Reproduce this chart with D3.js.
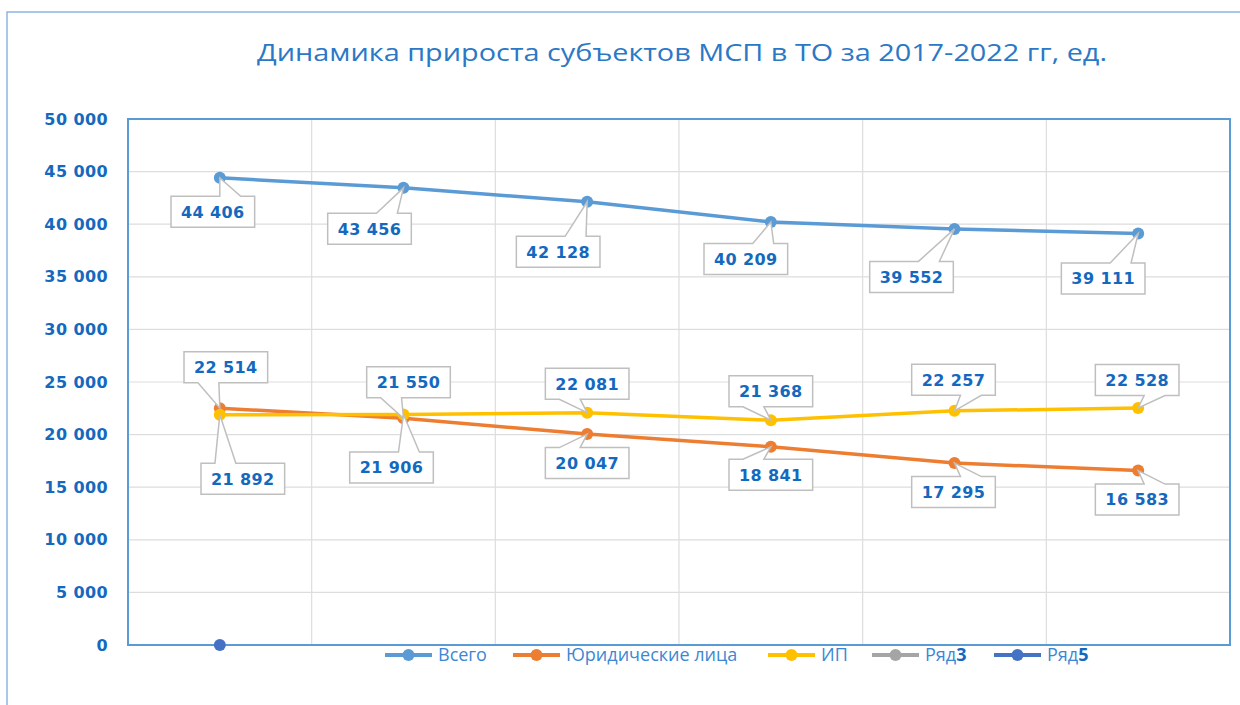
<!DOCTYPE html>
<html>
<head>
<meta charset="utf-8">
<script src="https://cdn.jsdelivr.net/npm/d3@7"></script>
<style>
  body { margin: 0; background: #fff; }
  svg { display: block; }
</style>
</head>
<body>
<div id="chart"></div>
<script>
// data
const years = ["2017", "2018", "2019", "2020", "2021", "2022"];
const totalVals = [44406, 43456, 42128, 40209, 39552, 39111];
const legalVals = [22514, 21550, 20047, 18841, 17295, 16583];
const ipVals = [21892, 21906, 22081, 21368, 22257, 22528];
const row3Vals = [null, null, null, null, null, null];
const row5Vals = [0, null, null, null, null, null];
const seriesNames = ["Всего", "Юридические лица", "ИП", "Ряд3", "Ряд5"];
const yTicks = [0, 5000, 10000, 15000, 20000, 25000, 30000, 35000, 40000, 45000, 50000];

// label box offsets from each point (layout, as placed in the original)
const totalLabelOff = [[-7, 34], [-34, 41], [-29, 50], [-25, 37], [-43, 48], [-35, 45]];
const legalLabelOff = [[6, -41], [5, -36], [0, 29], [0, 28], [-1, 29], [-1, 29]];
const ipLabelOff = [[23, 64], [-12, 53], [0, -29], [0, -29], [-1, -31], [-1, -28]];

const width = 1240, height = 705;
const plot = {left: 128, right: 1230, top: 119, bottom: 645};
const colors = ["#5B9BD5", "#ED7D31", "#FFC000", "#A5A5A5", "#4472C4"];
const textBlue = "#1469BF";

const svg = d3.select("#chart").append("svg")
    .attr("width", width)
    .attr("height", height);

// outer chart frame
svg.append("rect")
    .attr("x", 7).attr("y", 12)
    .attr("width", width).attr("height", height)
    .attr("fill", "none")
    .attr("stroke", "#8DB6E2")
    .attr("stroke-width", 1.5);

// title
svg.append("text")
    .attr("x", 682).attr("y", 61)
    .attr("text-anchor", "middle")
    .attr("font-family", "'Open Sans', sans-serif")
    .attr("font-size", 24)
    .attr("fill", "#2A78C6")
    .attr("textLength", 850)
    .attr("lengthAdjust", "spacingAndGlyphs")
    .text("Динамика прироста субъектов МСП в ТО за 2017-2022 гг, ед.");

const x = d3.scaleBand().domain(years).range([plot.left, plot.right]).padding(0);
const cx = d => x(d) + x.bandwidth() / 2;
const y = d3.scaleLinear().domain([0, 50000]).range([plot.bottom, plot.top]);

const fmt = v => d3.format(",")(v).replace(/,/g, " ");

// gridlines
svg.append("g").selectAll("line")
    .data(yTicks.slice(1, -1))
    .enter().append("line")
    .attr("x1", plot.left).attr("x2", plot.right)
    .attr("y1", d => y(d)).attr("y2", d => y(d))
    .attr("stroke", "#DDDDDD").attr("stroke-width", 1.2);

svg.append("g").selectAll("line")
    .data(years.slice(1))
    .enter().append("line")
    .attr("x1", d => x(d)).attr("x2", d => x(d))
    .attr("y1", plot.top).attr("y2", plot.bottom)
    .attr("stroke", "#DDDDDD").attr("stroke-width", 1.2);

// plot border
svg.append("rect")
    .attr("x", plot.left).attr("y", plot.top)
    .attr("width", plot.right - plot.left).attr("height", plot.bottom - plot.top)
    .attr("fill", "none")
    .attr("stroke", "#5B9BD5")
    .attr("stroke-width", 2);

// y axis labels
const yAxis = d3.axisLeft(y).tickValues(yTicks).tickSize(0).tickPadding(20).tickFormat(fmt);
const yg = svg.append("g")
    .attr("transform", `translate(${plot.left},0)`)
    .call(yAxis);
yg.select(".domain").remove();
yg.selectAll("text")
    .attr("font-family", "'DejaVu Sans', sans-serif")
    .attr("font-weight", "bold")
    .attr("font-size", 16)
    .attr("letter-spacing", 0.4)
    .attr("fill", textBlue);

// lines and markers
const allSeries = [totalVals, legalVals, ipVals, row3Vals, row5Vals];
const line = d3.line()
    .defined(d => d.v !== null)
    .x(d => cx(d.year))
    .y(d => y(d.v));

allSeries.forEach((vals, i) => {
    const pts = vals.map((v, j) => ({year: years[j], v: v}));
    svg.append("path")
        .datum(pts)
        .attr("d", line)
        .attr("fill", "none")
        .attr("stroke", colors[i])
        .attr("stroke-width", 3.5)
        .attr("stroke-linejoin", "round");
    svg.append("g").selectAll("circle")
        .data(pts.filter(d => d.v !== null))
        .enter().append("circle")
        .attr("cx", d => cx(d.year))
        .attr("cy", d => y(d.v))
        .attr("r", 6)
        .attr("fill", colors[i]);
});

// data label callouts (wedge rect callout)
function callout(px, py, bx, by, w, h) {
    const l = bx - w / 2, t = by - h / 2, r = bx + w / 2, b = by + h / 2;
    const dx = px - bx, dy = py - by;
    const dq = dx * h / w;
    const pts = [];
    if (Math.abs(dy) > Math.abs(dq)) {
        const x1 = l + w * (dx > 0 ? 7 : 2) / 12;
        const x2 = l + w * (dx > 0 ? 10 : 5) / 12;
        if (dy < 0) {
            pts.push([l, t], [x1, t], [px, py], [x2, t], [r, t], [r, b], [l, b]);
        } else {
            pts.push([l, t], [r, t], [r, b], [x2, b], [px, py], [x1, b], [l, b]);
        }
    } else {
        const y1 = t + h * (dy > 0 ? 7 : 2) / 12;
        const y2 = t + h * (dy > 0 ? 10 : 5) / 12;
        if (dx < 0) {
            pts.push([l, t], [r, t], [r, b], [l, b], [l, y2], [px, py], [l, y1]);
        } else {
            pts.push([l, t], [r, t], [r, y1], [px, py], [r, y2], [r, b], [l, b]);
        }
    }
    return "M" + pts.map(p => p.join(",")).join("L") + "Z";
}

const labelSets = [[totalVals, totalLabelOff], [legalVals, legalLabelOff], [ipVals, ipLabelOff]];
const labelLayer = svg.append("g");
labelSets.forEach(([vals, offs]) => {
    vals.forEach((v, j) => {
        const px = cx(years[j]), py = y(v);
        const bx = px + offs[j][0], by = py + offs[j][1];
        const g = labelLayer.append("g");
        const path = g.append("path")
            .attr("fill", "#fff")
            .attr("stroke", "#BFBFBF")
            .attr("stroke-width", 1.5);
        const t = g.append("text")
            .attr("x", bx).attr("y", by)
            .attr("dy", "0.37em")
            .attr("text-anchor", "middle")
            .attr("font-family", "'DejaVu Sans', sans-serif")
            .attr("font-weight", "bold")
            .attr("font-size", 16)
            .attr("letter-spacing", 0.4)
            .attr("fill", textBlue)
            .text(fmt(v));
        const w = t.node().getComputedTextLength() + 20;
        path.attr("d", callout(px, py, bx, by, w, 31));
    });
});

// legend
const legendX = [385, 513, 768, 872, 994];
const legend = svg.append("g").attr("transform", "translate(0,655)");
seriesNames.forEach((name, i) => {
    const g = legend.append("g").attr("transform", `translate(${legendX[i]},0)`);
    g.append("line")
        .attr("x1", 0).attr("x2", 47)
        .attr("stroke", colors[i]).attr("stroke-width", 4);
    g.append("circle").attr("cx", 23.5).attr("r", 6).attr("fill", colors[i]);
    const t = g.append("text")
        .attr("x", 53).attr("dy", "0.35em")
        .attr("font-family", "'Open Sans', sans-serif")
        .attr("font-size", 18)
        .attr("fill", "#3C87D4");
    const m = name.match(/^(\D+)(\d+)$/);
    if (m) {
        t.append("tspan").text(m[1]);
        t.append("tspan").attr("font-weight", "bold").attr("fill", textBlue).text(m[2]);
    } else {
        t.text(name);
    }
});
</script>
</body>
</html>
